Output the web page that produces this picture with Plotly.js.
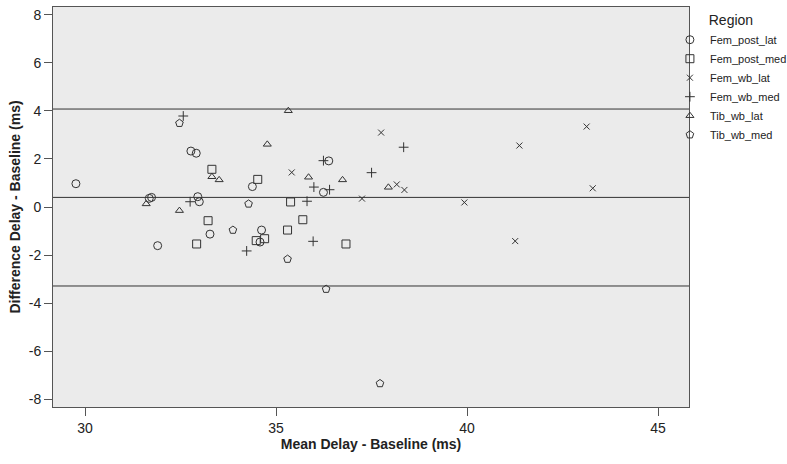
<!DOCTYPE html>
<html>
<head>
<meta charset="utf-8">
<script src="https://cdn.plot.ly/plotly-3.0.1.min.js"></script>
<style>html,body{margin:0;padding:0;background:#fff;}#chart{width:787px;height:464px;}</style>
</head>
<body>
<div id="chart"></div>
<script>
// Fem_post_lat (circle)
const femPostLatX = [29.76, 31.68, 31.74, 32.77, 32.91, 32.95, 32.99, 31.90, 33.27, 34.62, 34.58, 36.24, 36.38, 34.38];
const femPostLatY = [0.97, 0.36, 0.40, 2.33, 2.24, 0.43, 0.22, -1.61, -1.13, -0.96, -1.46, 0.61, 1.92, 0.85];
// Fem_post_med (square)
const femPostMedX = [33.32, 34.52, 33.22, 32.92, 34.48, 34.70, 35.38, 35.70, 35.30, 36.83];
const femPostMedY = [1.57, 1.15, -0.57, -1.54, -1.40, -1.32, 0.21, -0.53, -0.96, -1.54];
// Fem_wb_lat (x)
const femWbLatX = [37.75, 35.41, 38.16, 38.36, 37.25, 39.93, 43.13, 41.37, 43.29, 41.26];
const femWbLatY = [3.10, 1.44, 0.94, 0.71, 0.35, 0.19, 3.35, 2.56, 0.78, -1.42];
// Fem_wb_med (+)
const femWbMedX = [32.57, 32.75, 34.23, 38.34, 36.24, 37.50, 35.99, 36.40, 35.81, 35.97];
const femWbMedY = [3.79, 0.22, -1.83, 2.49, 1.93, 1.43, 0.83, 0.72, 0.24, -1.43];
// Tib_wb_lat (triangle)
const tibWbLatX = [34.77, 33.32, 33.51, 31.60, 32.47, 35.32, 35.85, 36.74, 37.94];
const tibWbLatY = [2.61, 1.26, 1.13, 0.13, -0.15, 4.01, 1.24, 1.13, 0.82];
// Tib_wb_med (pentagon)
const tibWbMedX = [32.47, 34.28, 33.87, 35.30, 36.31, 37.72];
const tibWbMedY = [3.49, 0.13, -0.96, -2.17, -3.42, -7.35];

const regionNames = ["Fem_post_lat", "Fem_post_med", "Fem_wb_lat", "Fem_wb_med", "Tib_wb_lat", "Tib_wb_med"];
const refLines = [4.08, 0.40, -3.29]; // upper LoA, mean diff, lower LoA
const xTicks = [30, 35, 40, 45];
const yTicks = [-8, -6, -4, -2, 0, 2, 4, 6, 8];

const seriesX = [femPostLatX, femPostMedX, femWbLatX, femWbMedX, tibWbLatX, tibWbMedX];
const seriesY = [femPostLatY, femPostMedY, femWbLatY, femWbMedY, tibWbLatY, tibWbMedY];
const symbols = ["circle-open", "square-open", "x-thin-open", "cross-thin-open", "triangle-up-open", "pentagon-open"];
const sizes = [8, 8, 6, 7, 7, 8];

const traces = regionNames.map((name, i) => ({
  type: "scatter",
  mode: "markers",
  name: name,
  x: seriesX[i],
  y: seriesY[i],
  marker: {symbol: symbols[i], size: sizes[i], color: "#333", line: {color: "#333", width: 1}}
}));

const shapes = refLines.map(v => ({
  type: "line", xref: "paper", x0: 0, x1: 1, yref: "y", y0: v, y1: v,
  line: {color: "#333", width: 1}
}));

const layout = {
  width: 787, height: 464,
  margin: {l: 53, r: 98, t: 7, b: 57, autoexpand: false},
  paper_bgcolor: "#ffffff",
  plot_bgcolor: "#ebebeb",
  font: {family: "Liberation Sans, Arial, sans-serif", color: "#222", size: 13},
  showlegend: true,
  xaxis: {
    range: [29.16, 45.81], tickvals: xTicks, ticktext: xTicks.map(String),
    showgrid: false, zeroline: false, showline: true, linecolor: "#555", linewidth: 1, mirror: true,
    ticks: "outside", ticklen: 8, tickcolor: "#555",
    tickfont: {size: 14},
    title: {text: "<b>Mean Delay - Baseline (ms)</b>", font: {size: 14}, standoff: 3}
  },
  yaxis: {
    range: [-8.33, 8.33], tickvals: yTicks, ticktext: yTicks.map(String),
    showgrid: false, zeroline: false, showline: true, linecolor: "#555", linewidth: 1, mirror: true,
    ticks: "outside", ticklen: 8, tickcolor: "#555",
    tickfont: {size: 14},
    title: {text: "<b>Difference Delay - Baseline (ms)</b>", font: {size: 14}, standoff: 4}
  },
  legend: {
    x: 0.97, xanchor: "left", y: 1.0, yanchor: "top",
    bgcolor: "rgba(0,0,0,0)",
    font: {size: 11, color: "#222"},
    itemwidth: 30,
    tracegroupgap: 0,
    title: {text: "Region", side: "top center", font: {size: 14}}
  },
  shapes: shapes
};

Plotly.newPlot("chart", traces, layout, {displayModeBar: false, staticPlot: true});
</script>
</body>
</html>
